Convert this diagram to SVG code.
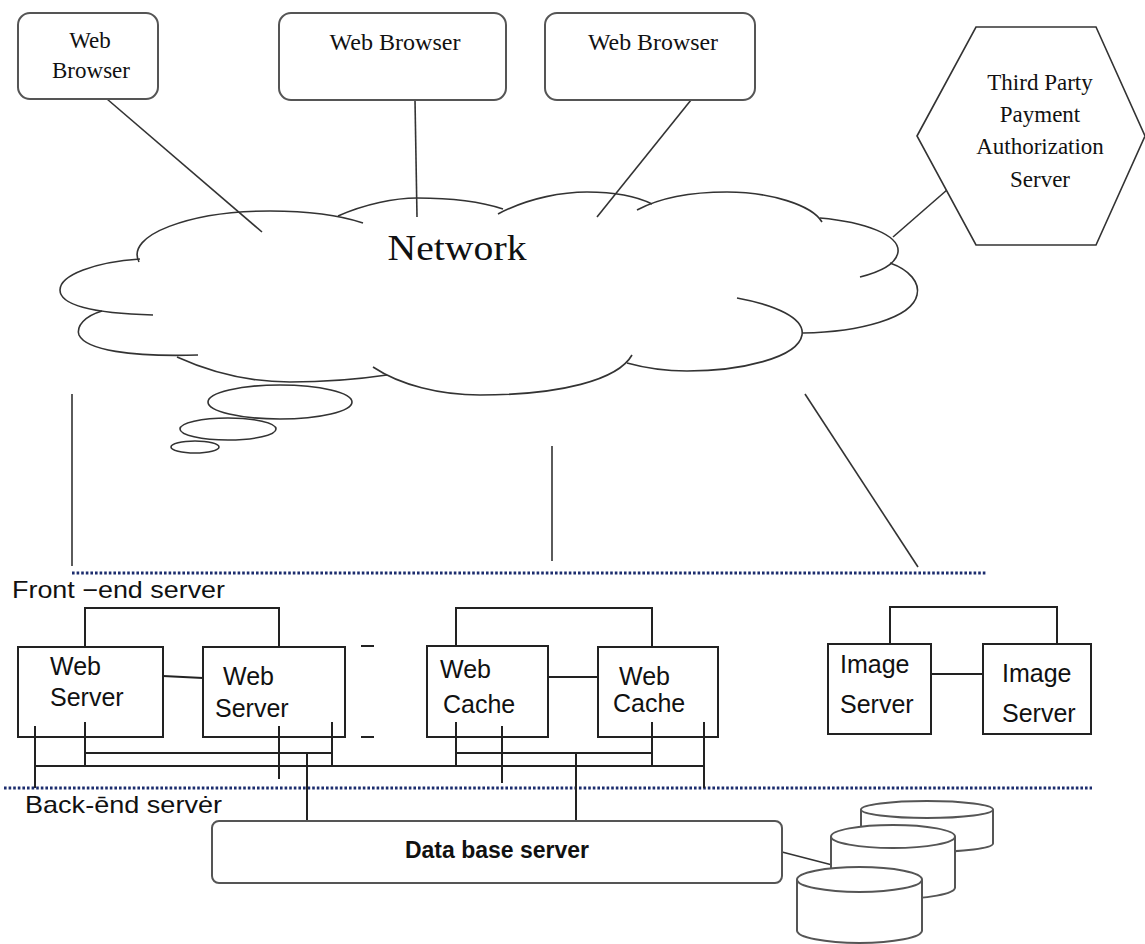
<svg xmlns="http://www.w3.org/2000/svg" width="1145" height="944" viewBox="0 0 1145 944">
<style>
.bg{fill:#fff}
.rbox{fill:#fff;stroke:#555;stroke-width:2}
.box{fill:#fff;stroke:#222;stroke-width:2}
.ln{fill:none;stroke:#333;stroke-width:1.6}
.bus{fill:none;stroke:#222;stroke-width:2}
.cl{fill:none;stroke:#333;stroke-width:1.6}
.dot{fill:none;stroke:#1c2d6e;stroke-width:3;stroke-dasharray:2.6 2}
.serif{font-family:"Liberation Serif","Times New Roman",serif;fill:#111}
.sans{font-family:"Liberation Sans",Arial,sans-serif;fill:#111}
</style>
<rect class="bg" x="0" y="0" width="1145" height="944"/>

<g id="connectors">
  <line class="ln" x1="107" y1="99" x2="262" y2="232"/>
  <line class="ln" x1="415" y1="100" x2="417" y2="217"/>
  <line class="ln" x1="691" y1="100" x2="597" y2="217"/>
  <line class="ln" x1="893" y1="237" x2="963" y2="176"/>
  <line class="ln" x1="72" y1="394" x2="72" y2="566"/>
  <line class="ln" x1="552" y1="446" x2="552" y2="561"/>
  <line class="ln" x1="805" y1="394" x2="918" y2="567"/>
  <line class="ln" x1="782" y1="852" x2="840" y2="867"/>
</g>

<g id="browser1">
  <rect class="rbox" x="18" y="13" width="140" height="86" rx="12"/>
  <text class="serif" x="90" y="48" font-size="23" text-anchor="middle">Web</text>
  <text class="serif" x="91" y="78" font-size="23" text-anchor="middle">Browser</text>
</g>
<g id="browser2">
  <rect class="rbox" x="279" y="13" width="227" height="87" rx="12"/>
  <text class="serif" x="395" y="50" font-size="23" text-anchor="middle" textLength="131" lengthAdjust="spacingAndGlyphs">Web Browser</text>
</g>
<g id="browser3">
  <rect class="rbox" x="545" y="13" width="210" height="87" rx="12"/>
  <text class="serif" x="653" y="50" font-size="23" text-anchor="middle" textLength="130" lengthAdjust="spacingAndGlyphs">Web Browser</text>
</g>

<g id="payment">
  <polygon class="cl" points="917,136 976,27 1096,27 1145,136 1096,245 976,245" style="fill:#fff"/>
  <text class="serif" x="1040" y="90" font-size="23" text-anchor="middle">Third Party</text>
  <text class="serif" x="1040" y="122" font-size="23" text-anchor="middle">Payment</text>
  <text class="serif" x="1040" y="154" font-size="23" text-anchor="middle">Authorization</text>
  <text class="serif" x="1040" y="187" font-size="23" text-anchor="middle">Server</text>
</g>

<g id="network">
  <path class="cl" d="M139,262 C125,235 190,211 270,211 C315,211 345,217 363,223"/>
  <path class="cl" d="M338,216 C365,204 395,198 417,198 C455,198 485,203 503,209"/>
  <path class="cl" d="M498,214 C530,197 565,192 587,192 C615,192 638,197 652,204"/>
  <path class="cl" d="M637,210 C665,195 700,192 727,192 C770,192 812,205 822,222"/>
  <path class="cl" d="M820,218 C865,222 900,235 898,252 C896,265 880,272 860,277"/>
  <path class="cl" d="M890,263 C910,270 920,283 917,295 C912,318 860,332 803,333"/>
  <path class="cl" d="M737,298 C775,305 805,318 802,335 C798,358 740,371 687,371 C665,371 645,368 627,363"/>
  <path class="cl" d="M373,367 C400,385 440,395 480,395 C560,395 618,380 632,355"/>
  <path class="cl" d="M177,357 C210,372 250,382 290,382 C330,382 360,379 387,375"/>
  <path class="cl" d="M102,311 C85,316 76,326 79,335 C86,350 130,357 198,355"/>
  <path class="cl" d="M140,259 C95,262 60,275 60,290 C60,303 85,313 153,315"/>
  <ellipse class="cl" cx="280" cy="402" rx="72" ry="17"/>
  <ellipse class="cl" cx="228" cy="429" rx="48" ry="11"/>
  <ellipse class="cl" cx="195" cy="447" rx="24" ry="6"/>
  <text class="serif" x="457" y="260" font-size="36" text-anchor="middle" textLength="139" lengthAdjust="spacingAndGlyphs">Network</text>
</g>

<g id="tiers">
  <line class="dot" x1="72" y1="573" x2="986" y2="573"/>
  <line class="dot" x1="4" y1="788" x2="1092" y2="788"/>
  <text class="sans" x="12" y="598" font-size="24" textLength="213" lengthAdjust="spacingAndGlyphs">Front −end server</text>
  <text class="sans" x="25" y="813" font-size="24" textLength="197" lengthAdjust="spacingAndGlyphs">Back-ēnd servėr</text>
  <line class="bus" x1="361" y1="646" x2="374" y2="646"/>
  <line class="bus" x1="361" y1="737" x2="374" y2="737"/>
</g>

<g id="webservers">
  <polyline class="bus" points="85,647 85,608 279,608 279,647"/>
  <line class="bus" x1="163" y1="676" x2="203" y2="678"/>
  <g id="webserver1">
    <rect class="box" x="18" y="647" width="145" height="90"/>
    <text class="sans" x="50" y="675" font-size="25">Web</text>
    <text class="sans" x="50" y="706" font-size="25">Server</text>
  </g>
  <g id="webserver2">
    <rect class="box" x="203" y="647" width="142" height="90"/>
    <text class="sans" x="223" y="685" font-size="25">Web</text>
    <text class="sans" x="215" y="717" font-size="25">Server</text>
  </g>
</g>

<g id="webcaches">
  <polyline class="bus" points="456,646 456,608 652,608 652,646"/>
  <line class="bus" x1="548" y1="677" x2="598" y2="677"/>
  <g id="webcache1">
    <rect class="box" x="427" y="646" width="121" height="91"/>
    <text class="sans" x="440" y="678" font-size="25">Web</text>
    <text class="sans" x="443" y="713" font-size="25">Cache</text>
  </g>
  <g id="webcache2">
    <rect class="box" x="598" y="647" width="120" height="90"/>
    <text class="sans" x="619" y="685" font-size="25">Web</text>
    <text class="sans" x="613" y="712" font-size="25">Cache</text>
  </g>
</g>

<g id="imageservers">
  <polyline class="bus" points="890,644 890,607 1057,607 1057,644"/>
  <line class="bus" x1="931" y1="674" x2="983" y2="674"/>
  <g id="imageserver1">
    <rect class="box" x="828" y="644" width="103" height="90"/>
    <text class="sans" x="840" y="673" font-size="25">Image</text>
    <text class="sans" x="840" y="713" font-size="25">Server</text>
  </g>
  <g id="imageserver2">
    <rect class="box" x="983" y="644" width="108" height="90"/>
    <text class="sans" x="1002" y="682" font-size="25">Image</text>
    <text class="sans" x="1002" y="722" font-size="25">Server</text>
  </g>
</g>

<g id="bus">
  <line class="bus" x1="35" y1="726" x2="35" y2="788"/>
  <line class="bus" x1="85" y1="722" x2="85" y2="766"/>
  <line class="bus" x1="85" y1="753" x2="332" y2="753"/>
  <line class="bus" x1="35" y1="766" x2="705" y2="766"/>
  <line class="bus" x1="279" y1="726" x2="279" y2="779"/>
  <line class="bus" x1="332" y1="722" x2="332" y2="766"/>
  <line class="bus" x1="307" y1="753" x2="307" y2="821"/>
  <line class="bus" x1="456" y1="722" x2="456" y2="766"/>
  <line class="bus" x1="502" y1="726" x2="502" y2="783"/>
  <line class="bus" x1="456" y1="753" x2="652" y2="753"/>
  <line class="bus" x1="652" y1="722" x2="652" y2="766"/>
  <line class="bus" x1="704" y1="722" x2="704" y2="788"/>
  <line class="bus" x1="576" y1="753" x2="576" y2="821"/>
</g>

<g id="dbserver">
  <rect class="rbox" x="212" y="821" width="570" height="62" rx="7"/>
  <text class="sans" x="497" y="858" font-size="23" font-weight="bold" text-anchor="middle">Data base server</text>
</g>

<g id="databases">
  <g id="db3">
    <path class="rbox" d="M861,809.5 L861,843.5 A66,8.5 0 0 0 993,843.5 L993,809.5"/>
    <ellipse class="rbox" cx="927" cy="809.5" rx="66" ry="8.5"/>
  </g>
  <g id="db2">
    <path class="rbox" d="M831,836.5 L831,887.5 A62,11.5 0 0 0 955,887.5 L955,836.5"/>
    <ellipse class="rbox" cx="893" cy="836.5" rx="62" ry="11.5"/>
  </g>
  <g id="db1">
    <path class="rbox" d="M797,879.5 L797,930.5 A62.5,12.5 0 0 0 922,930.5 L922,879.5"/>
    <ellipse class="rbox" cx="859.5" cy="879.5" rx="62.5" ry="12.5"/>
  </g>
</g>
</svg>
